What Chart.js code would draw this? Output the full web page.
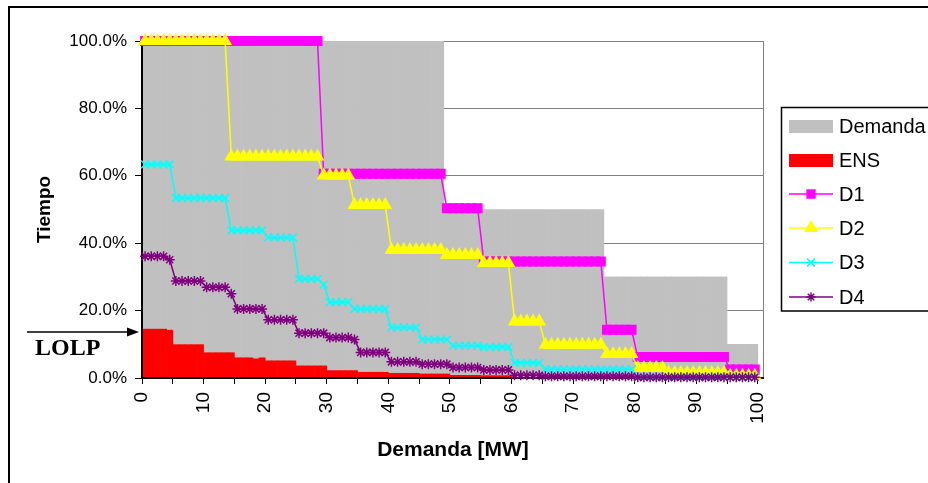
<!DOCTYPE html>
<html lang="es">
<head>
    <meta charset="UTF-8">
    <title>Demanda y LOLP</title>
    <style>
        body {
            margin: 0;
            background-color: #ffffff;
        }
        #grafico {
            display: block;
        }
    </style>
</head>
<body>
    <canvas id="grafico" width="928" height="483"></canvas>

    <script src="https://cdn.jsdelivr.net/npm/chart.js"></script>
    <script>
        // Bloques de demanda de 1 MW (0 .. 99)
        const bloquesMW = [
            0, 1, 2, 3, 4, 5, 6, 7, 8, 9,
            10, 11, 12, 13, 14, 15, 16, 17, 18, 19,
            20, 21, 22, 23, 24, 25, 26, 27, 28, 29,
            30, 31, 32, 33, 34, 35, 36, 37, 38, 39,
            40, 41, 42, 43, 44, 45, 46, 47, 48, 49,
            50, 51, 52, 53, 54, 55, 56, 57, 58, 59,
            60, 61, 62, 63, 64, 65, 66, 67, 68, 69,
            70, 71, 72, 73, 74, 75, 76, 77, 78, 79,
            80, 81, 82, 83, 84, 85, 86, 87, 88, 89,
            90, 91, 92, 93, 94, 95, 96, 97, 98, 99
        ];

        // % de tiempo
        const demanda = [
            100, 100, 100, 100, 100, 100, 100, 100, 100, 100,
            100, 100, 100, 100, 100, 100, 100, 100, 100, 100,
            100, 100, 100, 100, 100, 100, 100, 100, 100, 100,
            100, 100, 100, 100, 100, 100, 100, 100, 100, 100,
            100, 100, 100, 100, 100, 100, 100, 100, 100, 50,
            50, 50, 50, 50, 50, 50, 50, 50, 50, 50,
            50, 50, 50, 50, 50, 50, 50, 50, 50, 50,
            50, 50, 50, 50, 50, 30, 30, 30, 30, 30,
            30, 30, 30, 30, 30, 30, 30, 30, 30, 30,
            30, 30, 30, 30, 30, 10, 10, 10, 10, 10
        ];

        const ens = [
            14.5, 14.5, 14.5, 14.5, 14.2, 9.9, 9.9, 9.9, 9.9, 9.9,
            7.5, 7.5, 7.5, 7.5, 7.5, 6.0, 6.0, 6.0, 5.7, 6.0,
            5.1, 5.1, 5.1, 5.1, 5.1, 3.6, 3.6, 3.6, 3.6, 3.6,
            2.2, 2.2, 2.2, 2.2, 2.2, 1.7, 1.7, 1.7, 1.7, 1.7,
            1.4, 1.4, 1.4, 1.4, 1.4, 1.2, 1.2, 1.2, 1.2, 1.2,
            0.8, 0.8, 0.8, 0.8, 0.8, 0.7, 0.7, 0.7, 0.7, 0.7,
            0, 0, 0, 0, 0, 0, 0, 0, 0, 0,
            0, 0, 0, 0, 0, 0, 0, 0, 0, 0,
            0, 0, 0, 0, 0, 0, 0, 0, 0, 0,
            0, 0, 0, 0, 0, 0, 0, 0, 0, 0
        ];

        const d1 = [
            100, 100, 100, 100, 100, 100, 100, 100, 100, 100,
            100, 100, 100, 100, 100, 100, 100, 100, 100, 100,
            100, 100, 100, 100, 100, 100, 100, 100, 100, 60.6,
            60.6, 60.6, 60.6, 60.6, 60.6, 60.6, 60.6, 60.6, 60.6, 60.6,
            60.6, 60.6, 60.6, 60.6, 60.6, 60.6, 60.6, 60.6, 60.6, 50.4,
            50.4, 50.4, 50.4, 50.4, 50.4, 34.6, 34.6, 34.6, 34.6, 34.6,
            34.6, 34.6, 34.6, 34.6, 34.6, 34.6, 34.6, 34.6, 34.6, 34.6,
            34.6, 34.6, 34.6, 34.6, 34.6, 14.3, 14.3, 14.3, 14.3, 14.3,
            6.2, 6.2, 6.2, 6.2, 6.2, 6.2, 6.2, 6.2, 6.2, 6.2,
            6.2, 6.2, 6.2, 6.2, 6.2, 2.5, 2.5, 2.5, 2.5, 2.5
        ];

        const d2 = [
            100, 100, 100, 100, 100, 100, 100, 100, 100, 100,
            100, 100, 100, 100, 65.7, 65.7, 65.7, 65.7, 65.7, 65.7,
            65.7, 65.7, 65.7, 65.7, 65.7, 65.7, 65.7, 65.7, 65.7, 60.1,
            60.1, 60.1, 60.1, 60.1, 51.3, 51.3, 51.3, 51.3, 51.3, 51.3,
            38.0, 38.0, 38.0, 38.0, 38.0, 38.0, 38.0, 38.0, 38.0, 36.5,
            36.5, 36.5, 36.5, 36.5, 36.5, 34.1, 34.1, 34.1, 34.1, 34.1,
            16.8, 16.8, 16.8, 16.8, 16.8, 9.9, 9.9, 9.9, 9.9, 9.9,
            9.9, 9.9, 9.9, 9.9, 9.9, 7.1, 7.1, 7.1, 7.1, 7.1,
            3.0, 3.0, 3.0, 3.0, 3.0, 1.5, 1.5, 1.5, 1.5, 1.5,
            1.5, 1.5, 1.5, 1.5, 1.5, 0.7, 0.7, 0.7, 0.7, 0.7
        ];

        const d3 = [
            63.4, 63.4, 63.4, 63.4, 63.4, 53.4, 53.4, 53.4, 53.4, 53.4,
            53.4, 53.4, 53.4, 53.4, 43.8, 43.8, 43.8, 43.8, 43.8, 43.8,
            41.7, 41.7, 41.7, 41.7, 41.7, 29.4, 29.4, 29.4, 29.4, 27.7,
            22.5, 22.5, 22.5, 22.5, 20.5, 20.5, 20.5, 20.5, 20.5, 20.5,
            15.0, 15.0, 15.0, 15.0, 15.0, 11.4, 11.4, 11.4, 11.4, 11.4,
            9.6, 9.6, 9.6, 9.6, 9.6, 9.2, 9.2, 9.2, 9.2, 9.2,
            4.5, 4.5, 4.5, 4.5, 4.5, 2.6, 2.6, 2.6, 2.6, 2.6,
            2.6, 2.6, 2.6, 2.6, 2.6, 2.6, 2.6, 2.6, 2.6, 2.6,
            0.3, 0.3, 0.3, 0.3, 0.3, 0.3, 0.3, 0.3, 0.3, 0.3,
            0.3, 0.3, 0.3, 0.3, 0.3, 0.3, 0.3, 0.3, 0.3, 0.3
        ];

        const d4 = [
            36.1, 36.1, 36.1, 36.1, 35.1, 28.8, 28.8, 28.8, 28.8, 28.8,
            26.9, 26.9, 26.9, 26.9, 25.0, 20.5, 20.5, 20.5, 20.5, 20.5,
            17.3, 17.3, 17.3, 17.3, 17.3, 13.3, 13.3, 13.3, 13.3, 13.3,
            12.0, 12.0, 12.0, 12.0, 11.4, 7.6, 7.6, 7.6, 7.6, 7.6,
            4.8, 4.8, 4.8, 4.8, 4.8, 4.1, 4.1, 4.1, 4.1, 4.1,
            3.1, 3.1, 3.1, 3.1, 3.1, 2.4, 2.4, 2.4, 2.4, 2.4,
            0.8, 0.8, 0.8, 0.8, 0.8, 0.5, 0.5, 0.5, 0.5, 0.5,
            0.5, 0.5, 0.5, 0.5, 0.5, 0.5, 0.5, 0.5, 0.5, 0.5,
            0.2, 0.2, 0.2, 0.2, 0.2, 0.2, 0.2, 0.2, 0.2, 0.2,
            0.2, 0.2, 0.2, 0.2, 0.2, 0.2, 0.2, 0.2, 0.2, 0.2
        ];

        // tick marks every 5 MW, labels every 10
        const xTicks = [0, 5, 10, 15, 20, 25, 30, 35, 40, 45, 50, 55, 60, 65, 70, 75, 80, 85, 90, 95, 100];
        const yTicks = [0, 20, 40, 60, 80, 100];

        const SANS = "'Liberation Sans', Arial, sans-serif";

        // each 1 MW block is drawn centred in its slot
        function puntos(serie) {
            return bloquesMW.map((b, i) => ({ x: b + 0.5, y: serie[i] }));
        }

        const leyenda = [
            { label: 'Demanda', tipo: 'box', color: '#C0C0C0' },
            { label: 'ENS', tipo: 'box', color: '#FF0000' },
            { label: 'D1', tipo: 'line', color: '#FF00FF', style: 'rect', r: 5.5 },
            { label: 'D2', tipo: 'line', color: '#FFFF00', style: 'triangle', r: 6.5 },
            { label: 'D3', tipo: 'line', color: '#00FFFF', style: 'crossRot', r: 5.5 },
            { label: 'D4', tipo: 'line', color: '#800080', style: 'star', r: 4.5 }
        ];

        function marker(c, style, r, x, y) {
            if (Chart.helpers && Chart.helpers.drawPoint) {
                Chart.helpers.drawPoint(c, { pointStyle: style, radius: r, rotation: 0, borderWidth: 1.5 }, x, y);
            }
        }

        const decor = {
            id: 'decor',
            beforeDraw(chart) {
                const c = chart.ctx;
                c.save();
                c.fillStyle = '#ffffff';
                c.fillRect(0, 0, chart.width, chart.height);
                // outer frame
                c.fillStyle = '#000';
                c.fillRect(8, 6, 2, chart.height);
                c.fillRect(8, 6, chart.width, 2);
                c.restore();
            },
            beforeDatasetsDraw(chart) {
                const a = chart.chartArea;
                const c = chart.ctx;
                c.save();
                c.strokeStyle = '#808080';
                c.lineWidth = 1;
                c.beginPath();
                c.moveTo(a.left, a.top + 0.5);
                c.lineTo(a.right - 0.5, a.top + 0.5);
                c.lineTo(a.right - 0.5, a.bottom);
                c.stroke();
                c.restore();
            },
            afterDatasetDraw(chart, args) {
                if (args.index !== 1) return; // axes go over the bars, under the lines
                const a = chart.chartArea;
                const c = chart.ctx;
                c.save();
                c.fillStyle = '#000';
                c.fillRect(a.left - 1, a.top, 2, a.bottom - a.top + 1);
                c.fillRect(a.left - 1, a.bottom - 1, a.right - a.left + 1, 2);
                c.restore();
            },
            afterDraw(chart) {
                const c = chart.ctx;
                c.save();

                // LOLP arrow
                c.strokeStyle = '#000';
                c.fillStyle = '#000';
                c.lineWidth = 1.3;
                c.beginPath();
                c.moveTo(27, 332);
                c.lineTo(130, 332);
                c.stroke();
                c.beginPath();
                c.moveTo(139, 332);
                c.lineTo(127, 327.6);
                c.lineTo(127, 336.4);
                c.closePath();
                c.fill();
                c.font = "bold 24px 'Liberation Serif', 'Times New Roman', serif";
                c.textBaseline = 'alphabetic';
                c.textAlign = 'left';
                c.fillText('LOLP', 35, 355);

                // legend
                c.lineWidth = 1.5;
                c.strokeRect(781.5, 107.5, 300, 203.5);
                const filas = [126.5, 160.5, 194, 228, 262.5, 297];
                c.font = '20px ' + SANS;
                c.textBaseline = 'middle';
                leyenda.forEach((it, i) => {
                    const y = filas[i];
                    if (it.tipo === 'box') {
                        c.fillStyle = it.color;
                        c.fillRect(789, y - 6.5, 44, 13);
                    } else {
                        c.strokeStyle = it.color;
                        c.fillStyle = it.color;
                        c.lineWidth = 1.5;
                        c.beginPath();
                        c.moveTo(789, y);
                        c.lineTo(833, y);
                        c.stroke();
                        marker(c, it.style, it.r, 811, y);
                    }
                    c.fillStyle = '#000';
                    c.fillText(it.label, 839, y + 1);
                });
                c.restore();
            }
        };

        function serieLinea(label, serie, color, style, r, order) {
            return {
                type: 'line',
                label: label,
                data: puntos(serie),
                borderColor: color,
                backgroundColor: color,
                borderWidth: 1.5,
                pointStyle: style,
                pointRadius: r,
                pointBorderWidth: 1.5,
                pointBackgroundColor: color,
                pointBorderColor: color,
                tension: 0,
                clip: false,
                order: order
            };
        }

        const ctx = document.getElementById('grafico');
        new Chart(ctx, {
            type: 'bar',
            data: {
                datasets: [
                    {
                        label: 'Demanda',
                        data: puntos(demanda),
                        backgroundColor: '#C0C0C0',
                        borderWidth: 0,
                        barPercentage: 1,
                        categoryPercentage: 1,
                        grouped: false,
                        order: 6
                    },
                    {
                        label: 'ENS',
                        data: puntos(ens),
                        backgroundColor: '#FF0000',
                        borderWidth: 0,
                        barPercentage: 1,
                        categoryPercentage: 1,
                        grouped: false,
                        order: 5
                    },
                    serieLinea('D1', d1, '#FF00FF', 'rect', 6, 4),
                    serieLinea('D2', d2, '#FFFF00', 'triangle', 6.5, 3),
                    serieLinea('D3', d3, '#00FFFF', 'crossRot', 5.5, 2),
                    serieLinea('D4', d4, '#800080', 'star', 5, 1)
                ]
            },
            options: {
                responsive: false,
                animation: false,
                layout: { padding: { left: 33, top: 41, right: 164, bottom: 20 } },
                plugins: {
                    legend: { display: false },
                    tooltip: { enabled: false }
                },
                scales: {
                    x: {
                        type: 'linear',
                        min: 0,
                        max: 101,
                        offset: false,
                        afterBuildTicks: (scale) => {
                            scale.ticks = xTicks.map(v => ({ value: v }));
                        },
                        afterFit: (scale) => { scale.height = 85; },
                        grid: {
                            display: true,
                            offset: false,
                            drawOnChartArea: false,
                            drawTicks: true,
                            tickLength: 6,
                            tickColor: '#000',
                            color: '#000'
                        },
                        border: { display: false },
                        ticks: {
                            autoSkip: false,
                            minRotation: 90,
                            maxRotation: 90,
                            padding: 8,
                            color: '#000',
                            font: { family: SANS, size: 19 },
                            callback: (v) => (v % 10 === 0 ? String(v) : '')
                        },
                        title: {
                            display: true,
                            text: 'Demanda [MW]',
                            color: '#000',
                            padding: 0,
                            font: { family: SANS, size: 21, weight: 'bold' }
                        }
                    },
                    y: {
                        min: 0,
                        max: 100,
                        afterBuildTicks: (scale) => {
                            scale.ticks = yTicks.map(v => ({ value: v }));
                        },
                        afterFit: (scale) => { scale.width = 109; },
                        grid: {
                            color: (c) => (c.tick && c.tick.value === 0 ? 'rgba(0,0,0,0)' : '#808080'),
                            lineWidth: 1,
                            tickLength: 7,
                            tickColor: '#000'
                        },
                        border: { display: false },
                        ticks: {
                            padding: 8,
                            color: '#000',
                            font: { family: SANS, size: 17 },
                            callback: (v) => v.toFixed(1) + '%'
                        },
                        title: {
                            display: true,
                            text: 'Tiempo',
                            color: '#000',
                            padding: 0,
                            font: { family: SANS, size: 19, weight: 'bold' }
                        }
                    }
                }
            },
            plugins: [decor]
        });
    </script>
</body>
</html>
